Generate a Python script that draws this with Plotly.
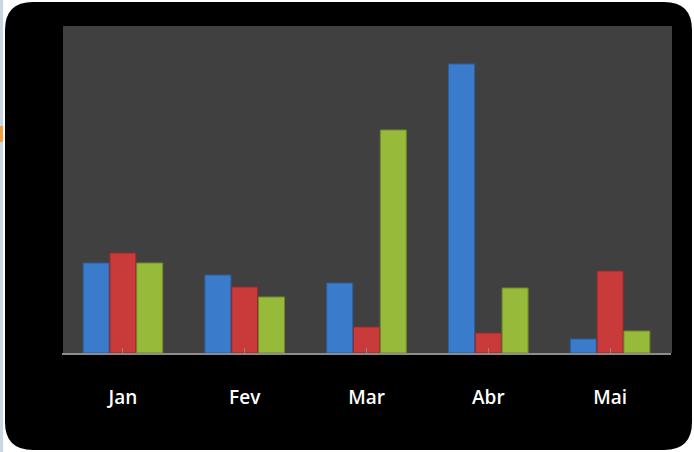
import plotly.graph_objects as go

categories = ["Jan", "Fev", "Mar", "Abr", "Mai"]
serie1 = [90, 78, 70, 289, 14]
serie2 = [100, 66, 26, 20, 82]
serie3 = [90, 56, 223, 65, 22]

colors = ["#3B7BCB", "#C93B3B", "#98BA3A"]
lines = ["#2A5E9E", "#962828", "#6E8A24"]

W, H = 694, 452
L, R, T, B = 62, 23, 26, 99
pw, ph = W - L - R, H - T - B

def px(x):
    return (x - L) / pw

def py(y):
    return (H - B - y) / ph

fig = go.Figure()
for name, vals, c, lc in zip(["Série 1", "Série 2", "Série 3"], [serie1, serie2, serie3], colors, lines):
    fig.add_trace(go.Bar(x=categories, y=vals, name=name,
                         marker=dict(color=c, line=dict(color=lc, width=1))))

# outer rounded black frame
x0, x1, y0, y1, r = px(5), px(692), py(450), py(2), 28
rx, ry = r / pw, r / ph
path = (f"M {x0+rx},{y1} L {x1-rx},{y1} Q {x1},{y1} {x1},{y1-ry} "
        f"L {x1},{y0+ry} Q {x1},{y0} {x1-rx},{y0} L {x0+rx},{y0} "
        f"Q {x0},{y0} {x0},{y0+ry} L {x0},{y1-ry} Q {x0},{y1} {x0+rx},{y1} Z")
shapes = [
    dict(type="path", xref="paper", yref="paper", path=path,
         fillcolor="black", line=dict(width=0), layer="below"),
    dict(type="rect", xref="paper", yref="paper", x0=px(63), x1=px(672), y0=0, y1=1,
         fillcolor="#404040", line=dict(width=0), layer="below"),
    dict(type="line", xref="paper", yref="paper", x0=px(1.5), x1=px(1.5), y0=py(452), y1=py(0),
         line=dict(color="#C8D6E8", width=3), layer="below"),
    dict(type="line", xref="paper", yref="paper", x0=px(1.5), x1=px(1.5), y0=py(142), y1=py(126),
         line=dict(color="#F0A040", width=3), layer="below"),
]

fig.update_layout(
    width=W, height=H,
    margin=dict(l=L, r=R, t=T, b=B, pad=0),
    paper_bgcolor="white",
    plot_bgcolor="rgba(0,0,0,0)",
    barmode="group", bargap=0.34, bargroupgap=0.03,
    showlegend=False,
    shapes=shapes,
    xaxis=dict(showgrid=False, showline=True, linecolor="#8C8C8C", linewidth=2,
               ticks="inside", ticklen=5, tickcolor="#8C8C8C",
               tickfont=dict(family="Open Sans", size=19, color="white", weight=600),
               ticklabelstandoff=26, zeroline=False),
    yaxis=dict(range=[0, 327], showgrid=False, showticklabels=False, zeroline=False,
               showline=False, ticks=""),
)

fig.write_html("out.html", config={"displayModeBar": False},
               post_script="document.body.style.margin='0';document.body.style.overflow='hidden';")
